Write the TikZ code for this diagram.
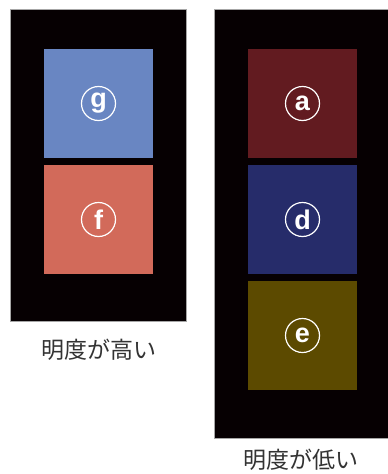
\documentclass[tikz,border=0pt]{standalone}
\usepackage{fontspec}
\usepackage{tikz}
\usetikzlibrary{positioning}
\newfontfamily\jpfont{Noto Sans CJK JP}
\newfontfamily\letterfont{Liberation Sans}

\definecolor{panelblack}{HTML}{060002}
\definecolor{lightblue}{HTML}{6986C2}
\definecolor{lightred}{HTML}{D26A5A}
\definecolor{darkred}{HTML}{621B20}
\definecolor{darknavy}{HTML}{262C6A}
\definecolor{darkolive}{HTML}{5C4A00}

\begin{document}
\begin{tikzpicture}[x=1pt,y=-1pt,
    panel/.style={fill=panelblack, draw=gray!70, line width=0.6pt},
    swatch/.style={minimum size=109pt, inner sep=0pt, outer sep=0pt},
    mark circle/.style={circle, draw=white, line width=1.2pt, minimum size=34pt,
      inner sep=0pt, text=white, font=\letterfont\bfseries\fontsize{27}{27}\selectfont},
    caption/.style={font=\jpfont\fontsize{23}{23}\selectfont, text=black!80}]
  \useasboundingbox (0,0) rectangle (388,474);

  % --- High lightness panel (left) ---
  \draw[panel] (10,9) rectangle (186,321);
  \node[swatch, fill=lightblue] (g) at (98.5,103.5) {};
  \node[swatch, fill=lightred, below=7pt of g] (f) {};
  \node[mark circle] (gmark) at (g.center) {g};
  \node[mark circle] (fmark) at (f.center) {f};
  \node[caption] (high) at (98.5,350) {明度が高い};

  % --- Low lightness panel (right) ---
  \draw[panel] (214,9) rectangle (392,438);
  \node[swatch, fill=darkred] (a) at (302.5,103.5) {};
  \node[swatch, fill=darknavy, below=7pt of a] (d) {};
  \node[swatch, fill=darkolive, below=7pt of d] (e) {};
  \node[mark circle] (amark) at (a.center) {a};
  \node[mark circle] (dmark) at (d.center) {d};
  \node[mark circle] (emark) at (e.center) {e};
  \node[caption] (low) at (301,460) {明度が低い};
\end{tikzpicture}
\end{document}
